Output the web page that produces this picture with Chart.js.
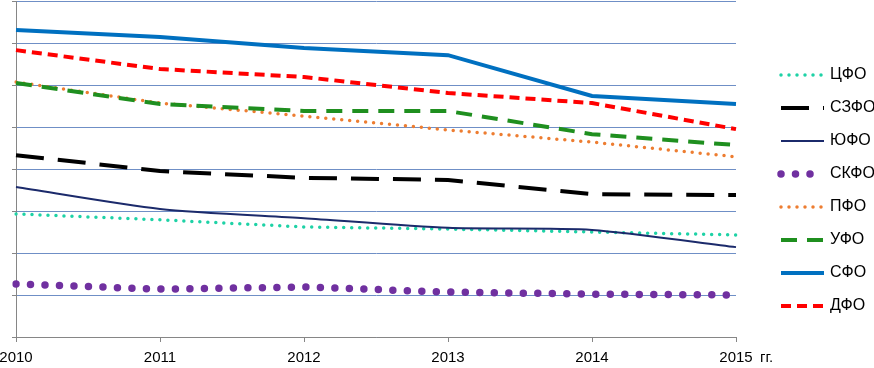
<!DOCTYPE html>
<html>
  <head>
    <title>Федеральные округа 2010–2015</title>
    <script src="https://cdn.jsdelivr.net/npm/chart.js"></script>
    <style>
      body {
        margin: 0;
        background: #fff;
      }
      #chart-container {
        width: 874px;
        height: 368px;
      }
    </style>
  </head>
  <body>
    <div id="chart-container">
      <canvas id="fdChart"></canvas>
    </div>
    <script>
      // years on the x axis
      const years = ["2010", "2011", "2012", "2013", "2014", "2015"];
      const districts = ["ЦФО", "СЗФО", "ЮФО", "СКФО", "ПФО", "УФО", "СФО", "ДФО"];

      // values in grid units (no y labels on the source chart)
      const cfo = [2.93, 2.79, 2.62, 2.57, 2.5, 2.43];
      const szfo = [4.33, 3.95, 3.79, 3.74, 3.4, 3.38];
      const yufo = [3.57, 3.05, 2.83, 2.6, 2.55, 2.14];
      const skfo = [1.26, 1.14, 1.19, 1.07, 1.02, 1.0];
      const pfo = [6.07, 5.57, 5.26, 4.93, 4.64, 4.29];
      const ufo = [6.05, 5.55, 5.38, 5.38, 4.83, 4.57];
      const sfo = [7.31, 7.14, 6.88, 6.71, 5.74, 5.55];
      const dfo = [6.83, 6.38, 6.19, 5.81, 5.57, 4.95];

      const series = [cfo, szfo, yufo, skfo, pfo, ufo, sfo, dfo];
      const styles = [
        { color: "#1ed2a6", width: 3.5, dash: [0, 8], cap: "round" },
        { color: "#000000", width: 4, dash: [28, 14], cap: "butt" },
        { color: "#1b2a6b", width: 2, dash: [], cap: "butt" },
        { color: "#7030a0", width: 7.5, dash: [0, 14.5], cap: "round" },
        { color: "#ed7d31", width: 3.5, dash: [0, 8], cap: "round" },
        { color: "#1f8f1f", width: 4, dash: [16, 10], cap: "butt" },
        { color: "#0070c0", width: 4, dash: [], cap: "butt" },
        { color: "#ff0000", width: 4, dash: [10, 6], cap: "butt" },
      ];

      const FONT = "Liberation Sans, Arial, sans-serif";

      const legendPlugin = {
        id: "sideLegend",
        afterDraw(chart) {
          const ctx = chart.ctx;
          ctx.save();
          ctx.font = "16px " + FONT;
          ctx.fillStyle = "#000";
          ctx.textBaseline = "middle";
          chart.data.datasets.forEach((ds, i) => {
            const y = 75 + i * 33;
            ctx.beginPath();
            ctx.strokeStyle = ds.borderColor;
            ctx.lineWidth = ds.borderWidth;
            ctx.lineCap = ds.borderCapStyle;
            ctx.setLineDash(ds.borderDash);
            ctx.moveTo(781, y);
            ctx.lineTo(824, y);
            ctx.stroke();
            ctx.setLineDash([]);
            ctx.fillText(ds.label, 830, y);
          });
          ctx.font = "15px " + FONT;
          ctx.fillText("гг.", 760, 358);
          ctx.restore();
        },
      };

      const ctx = document.getElementById("fdChart").getContext("2d");
      const fdChart = new Chart(ctx, {
        type: "line",
        data: {
          labels: years,
          datasets: series.map((values, i) => ({
            label: districts[i],
            data: values,
            borderColor: styles[i].color,
            backgroundColor: styles[i].color,
            borderWidth: styles[i].width,
            borderDash: styles[i].dash,
            borderCapStyle: styles[i].cap,
            pointRadius: 0,
            tension: i === 2 ? 0.25 : 0,
            fill: false,
            order: series.length - i,
          })),
        },
        options: {
          responsive: true,
          maintainAspectRatio: false,
          animation: false,
          layout: {
            padding: { top: 1, right: 138, bottom: 0, left: 0 },
          },
          scales: {
            x: {
              offset: false,
              afterFit(scale) {
                scale.height = 31;
                scale.paddingLeft = 0;
                scale.paddingRight = 0;
              },
              grid: {
                drawOnChartArea: false,
                drawTicks: true,
                tickLength: 5,
                color: "#868686",
              },
              border: { color: "#868686", width: 1 },
              ticks: {
                color: "#000",
                font: { family: FONT, size: 15 },
                maxRotation: 0,
                padding: 7,
              },
            },
            y: {
              min: 0,
              max: 8,
              afterFit(scale) {
                scale.width = 16;
              },
              grid: {
                color: "#6f8fc6",
                lineWidth: 1,
                drawTicks: true,
                tickLength: 4,
                tickColor: "#868686",
              },
              border: { color: "#868686", width: 1 },
              ticks: { display: false, stepSize: 1 },
            },
          },
          plugins: {
            legend: { display: false },
            tooltip: { enabled: false },
          },
        },
        plugins: [legendPlugin],
      });
    </script>
  </body>
</html>
